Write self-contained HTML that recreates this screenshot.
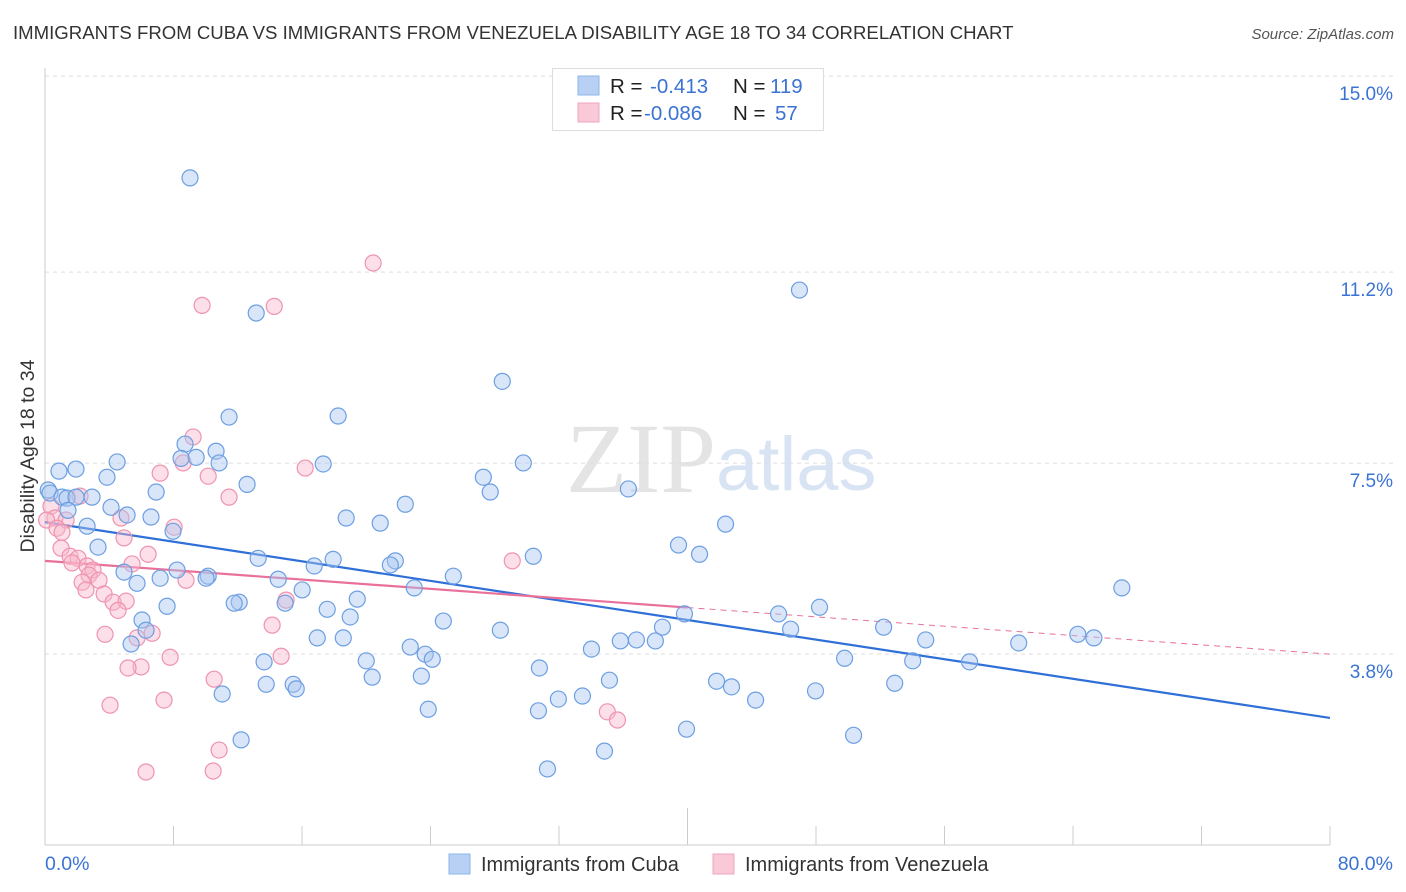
<!DOCTYPE html>
<html><head><meta charset="utf-8"><style>
body{margin:0;background:#fff;font-family:"Liberation Sans",sans-serif;}
#wrap{position:relative;width:1406px;height:892px;overflow:hidden;}
</style></head><body>
<div id="wrap">
<svg id="chart" width="1406" height="892" xmlns="http://www.w3.org/2000/svg">
<text x="13" y="39" font-size="18.6" fill="#333">IMMIGRANTS FROM CUBA VS IMMIGRANTS FROM VENEZUELA DISABILITY AGE 18 TO 34 CORRELATION CHART</text>
<text x="1394" y="39" font-size="15" fill="#555" font-style="italic" text-anchor="end">Source: ZipAtlas.com</text>
<text x="716" y="492" font-size="100" font-family="Liberation Serif,serif" fill="#e4e4e4" text-anchor="end">ZIP</text>
<text x="716" y="490" font-size="76" fill="#d8e4f4">atlas</text>
<g id="grid"></g>
<g id="axes"></g>
<g id="lines"></g>
<g id="points"></g>
<text x="34" y="456" font-size="19.5" fill="#333" text-anchor="middle" transform="rotate(-90 34 456)">Disability Age 18 to 34</text>
<g>
<rect x="552.5" y="68.5" width="271" height="62" fill="#fff" stroke="#ddd"/>
<rect x="578" y="76" width="21" height="19" fill="#b7d0f3" stroke="#8fb4e8"/>
<rect x="578" y="103" width="21" height="19" fill="#f9c9d7" stroke="#f0a5bc"/>
<text x="610" y="93" font-size="20.5" fill="#222">R = </text><text x="650" y="93" font-size="20.5" fill="#3b73d4">-0.413</text>
<text x="733" y="93" font-size="20.5" fill="#222">N = </text><text x="770" y="93" font-size="20.5" fill="#3b73d4">119</text>
<text x="610" y="120" font-size="20.5" fill="#222">R = </text><text x="644" y="120" font-size="20.5" fill="#3b73d4">-0.086</text>
<text x="733" y="120" font-size="20.5" fill="#222">N = </text><text x="775" y="120" font-size="20.5" fill="#3b73d4">57</text>
</g>
<g>
<rect x="449" y="854" width="21" height="20" fill="#b7d0f3" stroke="#8fb4e8"/>
<text x="481" y="871" font-size="20" fill="#333">Immigrants from Cuba</text>
<rect x="713" y="854" width="21" height="20" fill="#f9c9d7" stroke="#f0a5bc"/>
<text x="745" y="871" font-size="20" fill="#333">Immigrants from Venezuela</text>
</g>
</svg>
</div>
<script>
const yTicks=[3.8,7.5,11.2,15.0];
const yTickLabels=["3.8%","7.5%","11.2%","15.0%"];
const xTickCount=10;
const xMin=0,xMax=80;
const cubaX=[9.03,46.97,13.15,28.47,11.46,18.25,8.72,10.65,9.41,8.47,4.49,10.84,17.32,29.78,1.93,0.87,27.29,3.86,12.58,36.32,6.92,27.72,0.2,0.31,1.06,2.93,1.37,1.93,22.43,4.11,1.43,5.11,6.6,18.75,20.87,42.37,2.62,7.97,39.44,3.3,40.75,30.4,13.27,17.94,21.81,21.5,16.76,4.92,8.22,10.16,25.42,10.03,7.17,14.52,5.73,67.04,22.99,16.01,19.44,12.09,11.78,14.95,7.6,17.57,48.22,45.67,19.0,6.04,24.8,39.81,38.44,52.21,46.42,6.29,28.35,16.95,18.57,64.3,65.3,54.83,36.82,35.82,38.0,34.02,5.36,22.74,60.62,23.67,24.11,20.0,13.64,49.78,54.02,57.56,30.78,20.37,23.43,35.14,41.81,13.77,15.45,15.64,42.74,52.9,11.03,47.97,33.46,31.96,44.24,23.86,30.72,39.94,50.34,12.21,34.83,31.28];
const cubaY=[13.14,10.94,10.49,9.15,8.45,8.47,7.92,7.78,7.66,7.64,7.57,7.55,7.53,7.55,7.43,7.39,7.27,7.27,7.13,7.04,6.98,6.98,7.02,6.96,6.88,6.88,6.86,6.88,6.74,6.68,6.62,6.53,6.49,6.47,6.37,6.35,6.31,6.21,5.94,5.9,5.76,5.72,5.68,5.66,5.63,5.55,5.53,5.41,5.45,5.33,5.33,5.29,5.29,5.27,5.19,5.10,5.10,5.06,4.88,4.82,4.80,4.80,4.74,4.68,4.72,4.59,4.53,4.47,4.45,4.59,4.33,4.33,4.29,4.27,4.27,4.12,4.12,4.19,4.12,4.08,4.08,4.06,4.06,3.90,4.0,3.94,4.02,3.80,3.70,3.67,3.65,3.72,3.67,3.65,3.53,3.35,3.37,3.29,3.27,3.21,3.21,3.12,3.16,3.23,3.02,3.08,2.98,2.92,2.90,2.72,2.69,2.33,2.21,2.12,1.90,1.55];
const venX=[20.43,9.78,14.27,9.22,16.2,7.17,8.6,10.16,11.46,2.18,0.37,0.62,1.31,4.73,8.04,0.1,0.75,1.06,4.92,1.0,6.42,1.56,2.06,5.42,2.62,1.68,2.99,2.74,29.09,3.36,2.31,2.55,8.78,3.68,4.24,5.05,15.01,4.55,5.73,6.67,3.74,14.14,14.7,7.79,5.98,5.17,10.53,7.41,4.05,35.01,35.64,10.84,6.29,10.47];
const venY=[11.47,10.64,10.62,8.06,7.45,7.35,7.55,7.29,6.88,6.9,6.7,6.47,6.43,6.47,6.29,6.43,6.27,6.19,6.08,5.88,5.76,5.72,5.68,5.57,5.53,5.59,5.45,5.35,5.63,5.25,5.21,5.06,5.25,4.98,4.82,4.84,4.86,4.66,4.12,4.21,4.19,4.37,3.76,3.74,3.55,3.53,3.31,2.9,2.8,2.67,2.51,1.92,1.49,1.51];
const cubaTrend=[6.39,2.55];   // y at x=0 and x=80
const venTrend=[5.63,3.80];
const venSolidEnd=40;

const NS="http://www.w3.org/2000/svg";
const X0=45,X1=1330,Y0=848,PPU=51;
function sx(v){return X0+(v-xMin)/(xMax-xMin)*(X1-X0);}
function sy(v){return Y0-v*PPU;}
function gy(v){return 654-(v-3.8)*51.6;}
function mk(tag,attrs,parent){const e=document.createElementNS(NS,tag);for(const k in attrs)e.setAttribute(k,attrs[k]);parent.appendChild(e);return e;}
const grid=document.getElementById('grid'),axes=document.getElementById('axes'),lines=document.getElementById('lines'),pts=document.getElementById('points');
yTicks.forEach((t,i)=>{
  const y=gy(t);
  const g=mk('line',{x1:X0,x2:1394,y1:y,y2:y,stroke:'#ddd','stroke-dasharray':'4,4'},grid);
  
  
  const l=mk('text',{x:1393,y:y+24,'font-size':19,fill:'#3b73d4','text-anchor':'end'},grid);
  l.textContent=yTickLabels[i];
  
  
});
const ax=mk('line',{x1:X0,x2:X0,y1:68,y2:845,stroke:'#ccc'},axes);


const bx=mk('line',{x1:X0,x2:X1,y1:845,y2:845,stroke:'#ccc'},axes);


for(let i=0;i<=xTickCount;i++){
  const x=sx(xMin+i*(xMax-xMin)/xTickCount);
  const t=mk('line',{x1:x,x2:x,y1:(i==5?808:826),y2:845,stroke:'#ccc'},axes);
  
  
}
const xl0=mk('text',{x:45,y:870,'font-size':19.5,fill:'#3b73d4'},axes);xl0.textContent='0.0%';


const xl1=mk('text',{x:1393,y:870,'font-size':19.5,fill:'#3b73d4','text-anchor':'end'},axes);xl1.textContent='80.0%';



function dot(x,y,fill,stroke,name){
  const c=mk('circle',{cx:sx(x),cy:sy(y),r:8,fill:fill,stroke:stroke,'stroke-width':1.2},pts);
  
  
}
venX.forEach((x,i)=>dot(x,venY[i],'rgba(248,183,203,0.45)','#ee93b0','point-venezuela'));
cubaX.forEach((x,i)=>dot(x,cubaY[i],'rgba(170,198,240,0.45)','#6c9fe2','point-cuba'));

function ty(tr,x){return tr[0]+(tr[1]-tr[0])*(x-xMin)/(xMax-xMin);}
const cl=mk('line',{x1:sx(0),y1:sy(ty(cubaTrend,0)),x2:sx(80),y2:sy(ty(cubaTrend,80)),stroke:'#2f6fd8','stroke-width':2.2},lines);


const vl=mk('line',{x1:sx(0),y1:sy(ty(venTrend,0)),x2:sx(venSolidEnd),y2:sy(ty(venTrend,venSolidEnd)),stroke:'#e8709a','stroke-width':2.2},lines);


const vd=mk('line',{x1:sx(venSolidEnd),y1:sy(ty(venTrend,venSolidEnd)),x2:sx(80),y2:sy(ty(venTrend,80)),stroke:'#e8709a','stroke-width':1,'stroke-dasharray':'6,5'},lines);


</script>
</body></html>
